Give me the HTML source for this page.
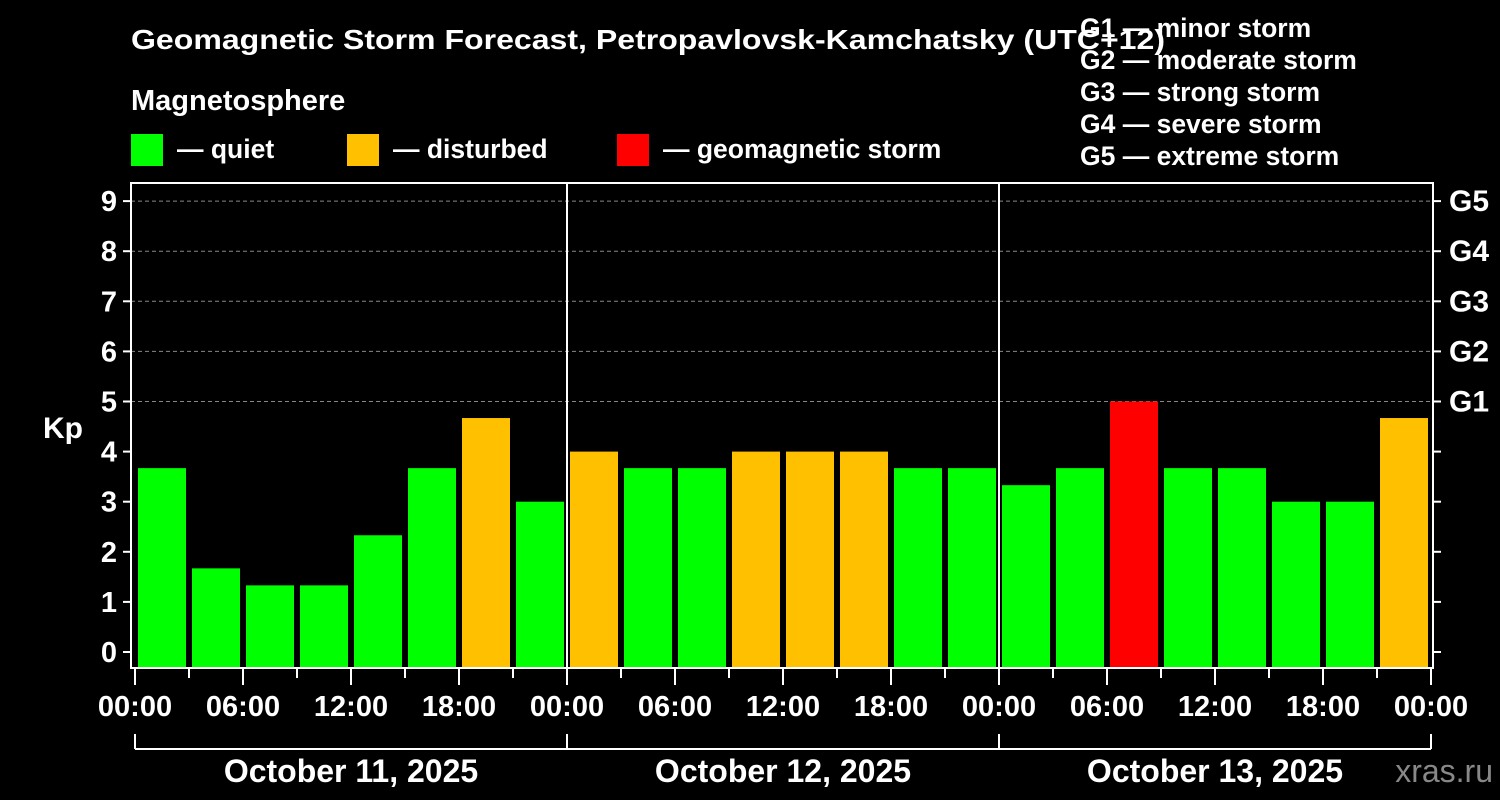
<!DOCTYPE html>
<html><head><meta charset="utf-8"><style>
html,body{margin:0;padding:0;background:#000;}
svg{display:block;font-family:"Liberation Sans",Arial,sans-serif;font-weight:bold;}
</style></head><body>
<svg id="chart" width="1500" height="800">
<g>
<text x="131" y="49" fill="#fff" font-size="28" textLength="1034" lengthAdjust="spacingAndGlyphs">Geomagnetic Storm Forecast, Petropavlovsk-Kamchatsky (UTC+12)</text>
<text x="131" y="110" fill="#fff" font-size="29">Magnetosphere</text>
</g>
<g>
<rect x="131" y="134" width="32" height="32" fill="#00ff00"/>
<text x="177" y="158" fill="#fff" font-size="26.5">— quiet</text>
<rect x="347" y="134" width="32" height="32" fill="#ffc000"/>
<text x="393" y="158" fill="#fff" font-size="26.5">— disturbed</text>
<rect x="617" y="134" width="32" height="32" fill="#ff0000"/>
<text x="663" y="158" fill="#fff" font-size="26.5">— geomagnetic storm</text>
<g font-size="26.5" fill="#fff">
<text x="1080" y="37">G1 — minor storm</text>
<text x="1080" y="69">G2 — moderate storm</text>
<text x="1080" y="101">G3 — strong storm</text>
<text x="1080" y="133">G4 — severe storm</text>
<text x="1080" y="165">G5 — extreme storm</text>
</g>
</g>
<g id="plot"></g>
<text x="63" y="438" fill="#fff" font-size="30" text-anchor="middle">Kp</text>
<text x="1493" y="782" fill="#888" font-size="32" text-anchor="end" font-weight="normal">xras.ru</text>
</svg>
<script>
const kpValues = [3.67,1.67,1.33,1.33,2.33,3.67,4.67,3.0, 4.0,3.67,3.67,4.0,4.0,4.0,3.67,3.67, 3.33,3.67,5.0,3.67,3.67,3.0,3.0,4.67];
const dayLabels = ["October 11, 2025","October 12, 2025","October 13, 2025"];
const hourLabels = ["00:00","06:00","12:00","18:00"];
const gLabels = ["G1","G2","G3","G4","G5"];
const yTicks = [0,1,2,3,4,5,6,7,8,9];

const NS="http://www.w3.org/2000/svg";
const plot=document.getElementById('plot');
const L=131,R=1433,T=183,B=668;
const x0=135, dayW=432;
const yScale=v=>652-(v)*50.1;
const xScale=h=>x0+h/24*dayW;
function mk(tag,attrs,parent){const e=document.createElementNS(NS,tag);for(const k in attrs)e.setAttribute(k,attrs[k]);(parent||plot).appendChild(e);return e;}
for(let g=5;g<=9;g++){const e=mk('line',{x1:L,x2:R,y1:yScale(g),y2:yScale(g),stroke:'#888','stroke-dasharray':'4,3','stroke-width':1});

}
kpValues.forEach((v,i)=>{
 const c=v>=5?'#ff0000':(v>=4?'#ffc000':'#00ff00');
 const xl=xScale(i*3)+3, xr=xScale(i*3+3)-3;
 const e=mk('rect',{x:xl,y:yScale(v),width:xr-xl,height:B-1-yScale(v),fill:c});
 
 
});
for(let d=1;d<dayLabels.length;d++){const e=mk('line',{x1:xScale(d*24),x2:xScale(d*24),y1:T,y2:B,stroke:'#fff','stroke-width':2});

}
const fr=mk('rect',{x:L,y:T,width:R-L,height:B-T,fill:'none',stroke:'#fff','stroke-width':2});


yTicks.forEach(t=>{
 const y=yScale(t);
 mk('line',{x1:L-8,x2:L,y1:y,y2:y,stroke:'#fff','stroke-width':2});
 mk('line',{x1:R,x2:R+8,y1:y,y2:y,stroke:'#fff','stroke-width':2});
 const e=mk('text',{x:L-14,y:y+10,fill:'#fff','font-size':29,'text-anchor':'end'});e.textContent=t;
 
 
});
gLabels.forEach((g,i)=>{
 const e=mk('text',{x:R+16,y:yScale(5+i)+10,fill:'#fff','font-size':30});e.textContent=g;
 
 
});
const nDays=dayLabels.length;
for(let h=0;h<=nDays*24;h+=3){
 const x=xScale(h), major=h%6===0;
 mk('line',{x1:x,x2:x,y1:B,y2:B+(major?17:10),stroke:'#fff','stroke-width':2});
 if(major){const lbl=h===nDays*24?hourLabels[0]:hourLabels[(h%24)/6];
  const e=mk('text',{x:x,y:716,fill:'#fff','font-size':29,'text-anchor':'middle'});e.textContent=lbl;
  
  }
}
mk('line',{x1:xScale(0),x2:xScale(nDays*24),y1:749,y2:749,stroke:'#fff','stroke-width':2});
for(let d=0;d<=nDays;d++)mk('line',{x1:xScale(d*24),x2:xScale(d*24),y1:734,y2:749,stroke:'#fff','stroke-width':2});
dayLabels.forEach((d,i)=>{
 const e=mk('text',{x:xScale(i*24+12),y:782,fill:'#fff','font-size':32,'text-anchor':'middle'});e.textContent=d;
 
 
});
</script>
</body></html>
